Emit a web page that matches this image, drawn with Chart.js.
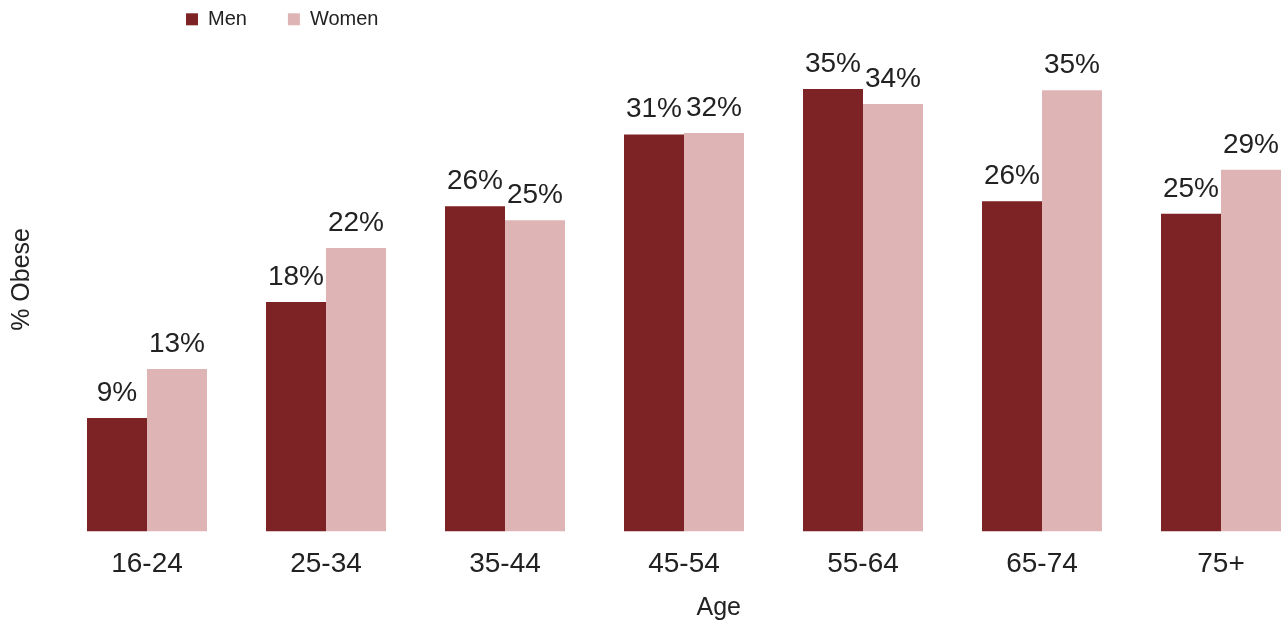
<!DOCTYPE html>
<html>
<head>
<meta charset="utf-8">
<script src="https://cdn.jsdelivr.net/npm/chart.js@4"></script>
<style>
  html, body { margin: 0; padding: 0; background: #fff; overflow: hidden; }
  #wrap { position: relative; width: 1311px; height: 621px; }
</style>
</head>
<body>
<div id="wrap"><canvas id="c"></canvas></div>
<script>
const categories = ['16-24', '25-34', '35-44', '45-54', '55-64', '65-74', '75+'];
const menValues = [9.0, 18.2, 25.8, 31.5, 35.1, 26.2, 25.2];
const womenValues = [12.9, 22.5, 24.7, 31.6, 33.9, 35.0, 28.7];
const menLabels = ['9%', '18%', '26%', '31%', '35%', '26%', '25%'];
const womenLabels = ['13%', '22%', '25%', '32%', '34%', '35%', '29%'];
const seriesNames = ['Men', 'Women'];
const yTitle = '% Obese';
const xTitle = 'Age';

const FONT = "'Liberation Sans', Arial, Helvetica, sans-serif";
const TEXT = '#222222';

const valueLabelPlugin = {
  id: 'valueLabels',
  afterDatasetsDraw(chart) {
    const ctx = chart.ctx;
    const sets = [menLabels, womenLabels];
    ctx.save();
    ctx.font = '28px ' + FONT;
    ctx.fillStyle = TEXT;
    ctx.textAlign = 'center';
    ctx.textBaseline = 'alphabetic';
    chart.data.datasets.forEach((ds, di) => {
      const meta = chart.getDatasetMeta(di);
      meta.data.forEach((bar, i) => {
        ctx.fillText(sets[di][i], bar.x, bar.y - 17);
      });
    });
    ctx.restore();
  }
};

const legendPlacePlugin = {
  id: 'legendPlace',
  afterUpdate(chart) {
    const lg = chart.legend;
    if (!lg) return;
    const pad = lg.options.labels.padding;
    lg.left = 186 - pad;
    lg.top = 9.3 - pad;
    lg.bottom = 45;
    lg.right = 1311;
  }
};

new Chart(document.getElementById('c'), {
  type: 'bar',
  data: {
    labels: categories,
    datasets: [
      { label: seriesNames[0], data: menValues, backgroundColor: '#7E2325', borderWidth: 0 },
      { label: seriesNames[1], data: womenValues, backgroundColor: '#DFB4B5', borderWidth: 0 }
    ]
  },
  options: {
    responsive: true,
    maintainAspectRatio: false,
    animation: false,
    datasets: { bar: { categoryPercentage: 120 / 179, barPercentage: 1.0 } },
    layout: { padding: { left: 0, right: 0.5, top: 0, bottom: 0 } },
    plugins: {
      legend: {
        position: 'top',
        align: 'start',
        maxHeight: 27.2,
        labels: {
          boxWidth: 12,
          boxHeight: 12,
          padding: 41,
          color: TEXT,
          font: { family: FONT, size: 20 }
        }
      },
      tooltip: { enabled: false }
    },
    scales: {
      x: {
        offset: true,
        grid: { display: false, drawTicks: false },
        border: { display: false },
        ticks: { color: TEXT, padding: 15.4, font: { family: FONT, size: 28 } },
        title: {
          display: true,
          text: '          ' + xTitle,
          color: TEXT,
          font: { family: FONT, size: 25, lineHeight: 1.0 },
          padding: { top: 0, bottom: 0 }
        }
      },
      y: {
        min: 0,
        max: 40,
        grid: { display: false, drawTicks: false },
        border: { display: false },
        ticks: { display: false },
        title: {
          display: true,
          text: yTitle,
          color: TEXT,
          font: { family: FONT, size: 25 },
          padding: { top: 7, bottom: 20.5 }
        }
      }
    }
  },
  plugins: [valueLabelPlugin, legendPlacePlugin]
});
</script>
</body>
</html>
